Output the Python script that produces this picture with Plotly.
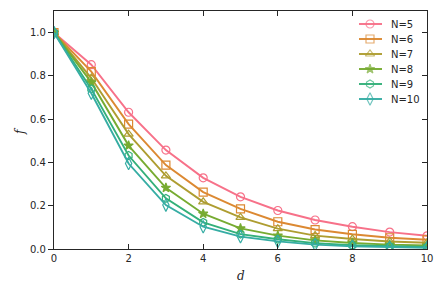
import plotly.graph_objects as go

d = list(range(11))
f_N5 = [1.0, 0.852, 0.632, 0.457, 0.329, 0.241, 0.178, 0.134, 0.103, 0.078, 0.061]
f_N6 = [1.0, 0.820, 0.577, 0.388, 0.263, 0.185, 0.126, 0.090, 0.068, 0.052, 0.043]
f_N7 = [1.0, 0.790, 0.531, 0.338, 0.218, 0.146, 0.094, 0.062, 0.046, 0.035, 0.029]
f_N8 = [1.0, 0.770, 0.478, 0.283, 0.163, 0.095, 0.062, 0.040, 0.028, 0.020, 0.016]
f_N9 = [1.0, 0.740, 0.432, 0.234, 0.123, 0.069, 0.045, 0.027, 0.017, 0.012, 0.009]
f_N10 = [1.0, 0.720, 0.395, 0.203, 0.103, 0.057, 0.035, 0.020, 0.012, 0.008, 0.006]

names = ["N=5", "N=6", "N=7", "N=8", "N=9", "N=10"]
series = [f_N5, f_N6, f_N7, f_N8, f_N9, f_N10]
colors = ["#f77189", "#dc8932", "#ae9d31", "#77ab31", "#33b07a", "#36ada4"]
symbols = ["circle-open", "square-open", "triangle-up-open", "star", "hexagon-open", "diamond-tall-open"]
sizes = [8, 8, 8, 7, 8, 9]

fig = go.Figure()
for n, y, c, s, sz in zip(names, series, colors, symbols, sizes):
    fig.add_trace(go.Scatter(
        x=d, y=y, name=n, mode="lines+markers", showlegend=False,
        line=dict(color=c, width=1.9),
        marker=dict(symbol=s, size=sz, color=c, line=dict(color=c, width=1.2)),
    ))

# custom legend drawn on a pixel-scaled overlay axis
leg_y0, leg_dy = 24, 15
for i, (n, c, s, sz) in enumerate(zip(names, colors, symbols, sizes)):
    yy = leg_y0 + i * leg_dy
    fig.add_trace(go.Scatter(
        x=[359, 370, 382], y=[yy, yy, yy], xaxis="x3", yaxis="y3", mode="lines+markers",
        line=dict(color=c, width=1.9), showlegend=False, hoverinfo="skip",
        marker=dict(symbol=s, size=[0, sz, 0], color=c, line=dict(color=c, width=1.2)),
    ))
    fig.add_annotation(x=389, y=yy, xref="x3", yref="y3", text=n, showarrow=False,
                       xanchor="left", yanchor="middle", font=dict(size=10, color="#262626"))

# axis titles (paper coordinates)
fig.add_annotation(x=0.5, y=-0.113, xref="paper", yref="paper", text="<i>d</i>", showarrow=False,
                   xanchor="center", yanchor="middle",
                   font=dict(family="DejaVu Serif", size=12, color="#262626"))
fig.add_annotation(x=-0.091, y=0.496, xref="paper", yref="paper", text="<i>f</i>", showarrow=False,
                   xanchor="center", yanchor="middle", textangle=-90,
                   font=dict(family="DejaVu Serif", size=12, color="#262626"))

axis_col = "#262626"
common = dict(tickcolor=axis_col, showline=True, linecolor=axis_col, linewidth=1.3,
              showgrid=False, zeroline=False, automargin=False, ticklen=5)
fig.update_layout(
    width=442, height=294,
    margin=dict(l=54, r=15, t=11, b=45),
    paper_bgcolor="white", plot_bgcolor="white",
    font=dict(family="DejaVu Sans", size=10, color=axis_col),
    showlegend=False,
    xaxis=dict(range=[0, 10], tickvals=[0, 2, 4, 6, 8, 10], ticks="inside", **common),
    yaxis=dict(range=[0, 1.1], tickvals=[0, 0.2, 0.4, 0.6, 0.8, 1.0],
               ticktext=["0.0", "0.2", "0.4", "0.6", "0.8", "1.0"], ticks="outside", **common),
    xaxis2=dict(range=[0, 10], overlaying="x", side="top", tickvals=[0, 2, 4, 6, 8, 10],
                ticks="inside", showticklabels=False, **common),
    yaxis2=dict(range=[0, 1.1], overlaying="y", side="right", tickvals=[0, 0.2, 0.4, 0.6, 0.8, 1.0],
                ticks="inside", showticklabels=False, **common),
    xaxis3=dict(range=[54, 427], overlaying="x", visible=False, fixedrange=True),
    yaxis3=dict(range=[249, 11], overlaying="y", visible=False, fixedrange=True),
)
fig.add_trace(go.Scatter(x=[None], y=[None], xaxis="x2", yaxis="y2", showlegend=False, hoverinfo="skip"))

fig.write_html("out.html", post_script="document.body.style.margin='0';",
               config={"displayModeBar": False})
